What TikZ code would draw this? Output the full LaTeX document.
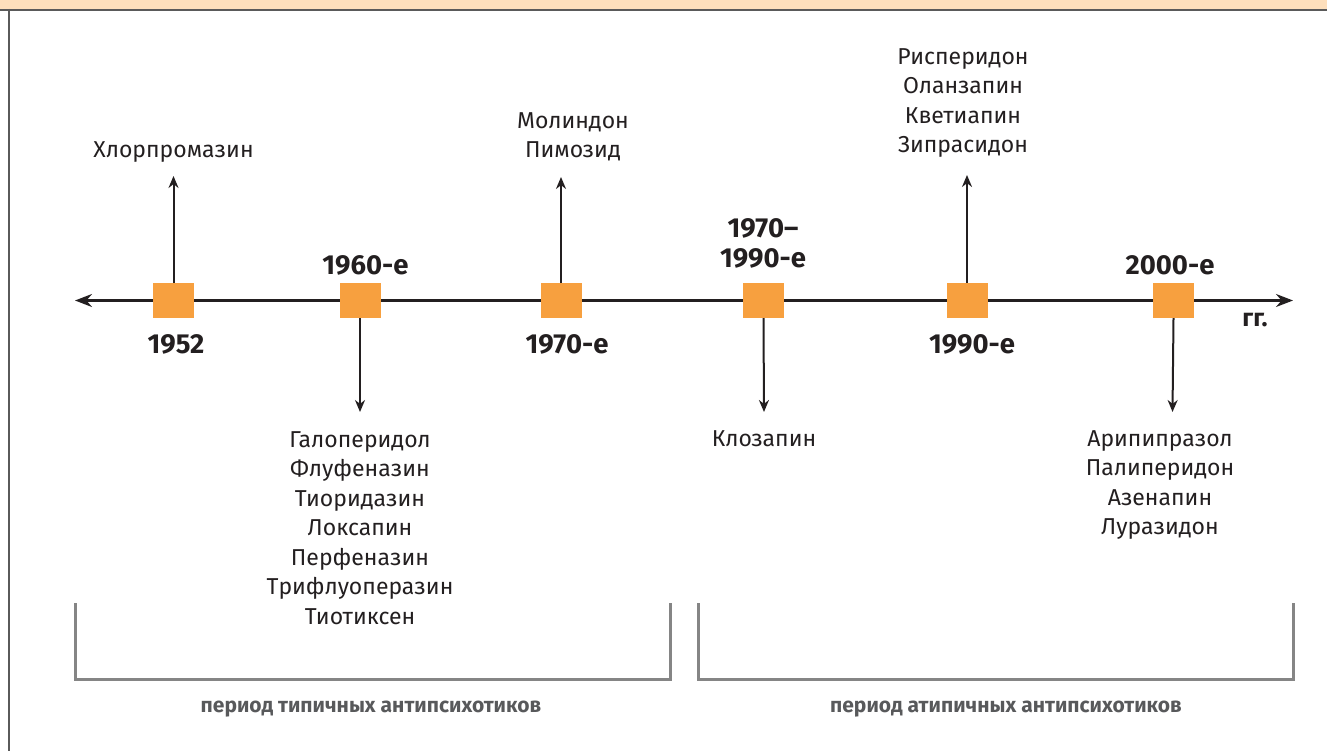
\documentclass[tikz,border=0pt]{standalone}
\usepackage{fontspec}
\setmainfont{Fira Sans}
\usetikzlibrary{arrows.meta}
\definecolor{peach}{HTML}{FDDFBC}
\definecolor{framec}{HTML}{5A5A5A}
\definecolor{sq}{HTML}{F7A03F}
\definecolor{ink}{HTML}{231F20}
\definecolor{brk}{HTML}{858585}
\definecolor{per}{HTML}{58595B}
\begin{document}
\begin{tikzpicture}[x=1pt,y=-1pt,
  yr/.style={font=\fontsize{27.5}{30}\selectfont\bfseries, text=ink, align=center, inner sep=0pt, anchor=base},
  drug/.style={font=\fontsize{23}{29.5}\selectfont, text=ink, align=center, inner sep=0pt, anchor=base},
  perlbl/.style={font=\fontsize{21}{24}\selectfont\bfseries, text=per, inner sep=0pt, anchor=base},
  sqbox/.style={fill=sq, minimum width=41pt, minimum height=35pt, inner sep=0pt},
  conn/.style={draw=ink, line width=2pt, -{Stealth[length=12pt,width=10pt]}},
  axisline/.style={draw=ink, line width=2.2pt, {Stealth[length=17pt,width=13pt]}-{Stealth[length=17pt,width=13pt]}},
  brkt/.style={draw=brk, line width=3pt, line join=miter}
]
\useasboundingbox (0,0) rectangle (1327,751);
\fill[peach] (0,0) rectangle (1327,9);
\draw[framec, line width=2pt] (0,9.8) -- (1327,9.8);
\draw[framec, line width=2pt] (9,9) -- (9,751);

% axis
\coordinate (axL) at (75,300.5);
\coordinate (axR) at (1293,300.5);
\draw[axisline] (axL) -- (axR);

% squares
\node[sqbox] (s1) at (173.5,300.5) {};
\node[sqbox] (s2) at (360,300.5) {};
\node[sqbox] (s3) at (561,300.5) {};
\node[sqbox] (s4) at (763.5,300.5) {};
\node[sqbox] (s5) at (967,300.5) {};
\node[sqbox] (s6) at (1173.5,300.5) {};

% arrow ends
\coordinate (t1) at (173.5,176);
\coordinate (t2) at (360,412);
\coordinate (t3) at (561,177);
\coordinate (t4) at (764,412);
\coordinate (t5) at (967,175);
\coordinate (t6) at (1172.5,412);
\draw[conn] (s1.north) -- (t1);
\draw[conn] (s2.south) -- (t2);
\draw[conn] (s3.north) -- (t3);
\draw[conn] (s4.south) -- (t4);
\draw[conn] (s5.north) -- (t5);
\draw[conn] (s6.south) -- (t6);

% years
\node[yr] (y1) at (176,353) {1952};
\node[yr] (y2) at (365.5,274) {1960-е};
\node[yr] (y3) at (567,353) {1970-е};
\node[yr] (y4) at (763,268) {1970–\\1990-е};
\node[yr] (y5) at (972,353) {1990-е};
\node[yr] (y6) at (1170,274) {2000-е};
\node[yr, font=\fontsize{25}{28}\selectfont\bfseries] (gg) at (1255,326) {гг.};

% drugs (base anchor = last line's baseline)
\node[drug] (l1) at (173.5,158) {Хлорпромазин};
\node[drug] (l2) at (360,624) {Галоперидол\\Флуфеназин\\Тиоридазин\\Локсапин\\Перфеназин\\Трифлуоперазин\\Тиотиксен};
\node[drug] (l3) at (573,158) {Молиндон\\Пимозид};
\node[drug] (l4) at (764,446) {Клозапин};
\node[drug] (l5) at (963,153) {Рисперидон\\Оланзапин\\Кветиапин\\Зипрасидон};
\node[drug] (l6) at (1160,534.5) {Арипипразол\\Палиперидон\\Азенапин\\Луразидон};

% brackets
\coordinate (b1a) at (75,603);
\coordinate (b1c) at (670,679);
\coordinate (b1d) at (670,603);
\coordinate (b2a) at (698,603);
\coordinate (b2c) at (1293,679);
\coordinate (b2d) at (1293,603);
\draw[brkt] (b1a) |- (b1c) -- (b1d);
\draw[brkt] (b2a) |- (b2c) -- (b2d);

\node[perlbl] (p1) at (371,712) {период типичных антипсихотиков};
\node[perlbl] (p2) at (1006,712) {период атипичных антипсихотиков};
\end{tikzpicture}
\end{document}
